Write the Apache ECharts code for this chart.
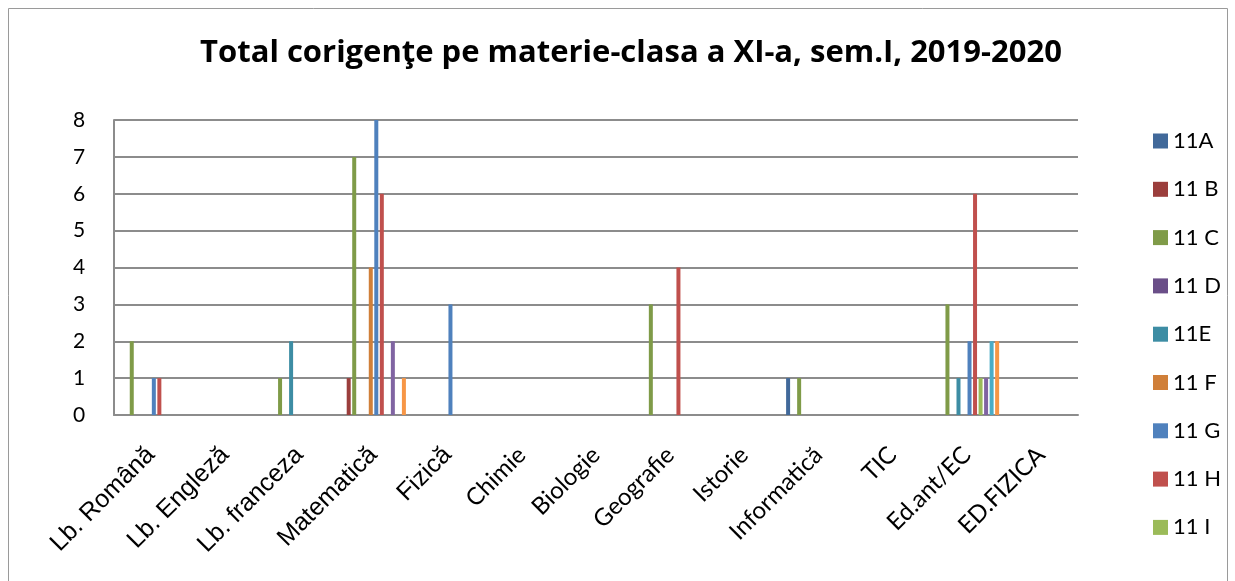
<!DOCTYPE html>
<html>
<head>
<meta charset="utf-8">
<script src="https://cdn.jsdelivr.net/npm/echarts@6/dist/echarts.min.js"></script>
<style>
html,body{margin:0;padding:0;background:#fff;}
#c{width:1235px;height:581px;}
</style>
</head>
<body>
<div id="c"></div>
<script>
const categories = ['Lb. Română','Lb. Engleză','Lb. franceza','Matematică','Fizică','Chimie','Biologie','Geografie','Istorie','Informatică','TIC','Ed.ant/EC','ED.FIZICA'];
const arialLabels = ['Lb. Română','Lb. Engleză','Lb. franceza','Matematică','Fizică'];
const seriesNames = ['11A','11 B','11 C','11 D','11E','11 F','11 G','11 H','11 I','11 J','11 K','11 L'];
const legendNames = ['11A','11 B','11 C','11 D','11E','11 F','11 G','11 H','11 I'];
const colors = ['#41699A','#9B3E3C','#7F9B48','#6A4E88','#3D8DA4','#D07F39','#4F81BD','#C0504D','#9BBB59','#8064A2','#4BACC6','#F79646'];
const s11A = [0,0,0,0,0,0,0,0,0,1,0,0,0];
const s11B = [0,0,0,1,0,0,0,0,0,0,0,0,0];
const s11C = [2,0,1,7,0,0,0,3,0,1,0,3,0];
const s11D = [0,0,0,0,0,0,0,0,0,0,0,0,0];
const s11E = [0,0,2,0,0,0,0,0,0,0,0,1,0];
const s11F = [0,0,0,4,0,0,0,0,0,0,0,0,0];
const s11G = [1,0,0,8,3,0,0,0,0,0,0,2,0];
const s11H = [1,0,0,6,0,0,0,4,0,0,0,6,0];
const s11I = [0,0,0,0,0,0,0,0,0,0,0,1,0];
const s11J = [0,0,0,2,0,0,0,0,0,0,0,1,0];
const s11K = [0,0,0,0,0,0,0,0,0,0,0,2,0];
const s11L = [0,0,0,1,0,0,0,0,0,0,0,2,0];
const allData = [s11A,s11B,s11C,s11D,s11E,s11F,s11G,s11H,s11I,s11J,s11K,s11L];
const yTicks = [0,1,2,3,4,5,6,7,8];

const chart = echarts.init(document.getElementById('c'));
chart.setOption({
  animation:false,
  backgroundColor:'#fff',
  title:{
    text:'Total corigenţe pe materie-clasa a XI-a, sem.I, 2019-2020',
    left:626, top:33, textAlign:'center',
    textStyle:{fontFamily:'Open Sans',fontWeight:'bold',fontSize:31,color:'#000'}
  },
  graphic:[{type:'rect',shape:{x:8.5,y:8.5,width:1219,height:600},style:{fill:'none',stroke:'#9a9a9a',lineWidth:1},silent:true,z:-1}],
  legend:{
    data:legendNames, orient:'vertical', left:1148, top:125,
    itemWidth:15, itemHeight:15, itemGap:26.3, icon:'rect',
    textStyle:{fontFamily:'Lato',fontSize:22,color:'#000'}
  },
  grid:{left:114,right:157,top:120,bottom:166},
  xAxis:{
    type:'category', data:categories,
    axisLine:{lineStyle:{color:'#8c8c8c',width:2}},
    axisTick:{show:false},
    axisLabel:{
      interval:0, rotate:45, margin:36,
      formatter:function(v){return arialLabels.indexOf(v)>=0?'{a|'+v+'}':'{b|'+v+'}';},
      rich:{
        a:{fontFamily:'Liberation Sans',fontSize:25,color:'#000'},
        b:{fontFamily:'Lato',fontSize:24,color:'#000'}
      }
    }
  },
  yAxis:{
    type:'value', min:yTicks[0], max:yTicks[yTicks.length-1], interval:1,
    axisLine:{show:true,lineStyle:{color:'#8c8c8c',width:2}},
    axisTick:{show:false},
    axisLabel:{margin:35,fontFamily:'Lato',fontSize:21,color:'#000',align:'center'},
    splitLine:{lineStyle:{color:'#8c8c8c',width:2}}
  },
  series: allData.map(function(d,i){
    return {name:seriesNames[i],type:'bar',data:d,barWidth:4,barGap:'38%',
      itemStyle:{color:colors[i]}};
  })
});
</script>
</body>
</html>
